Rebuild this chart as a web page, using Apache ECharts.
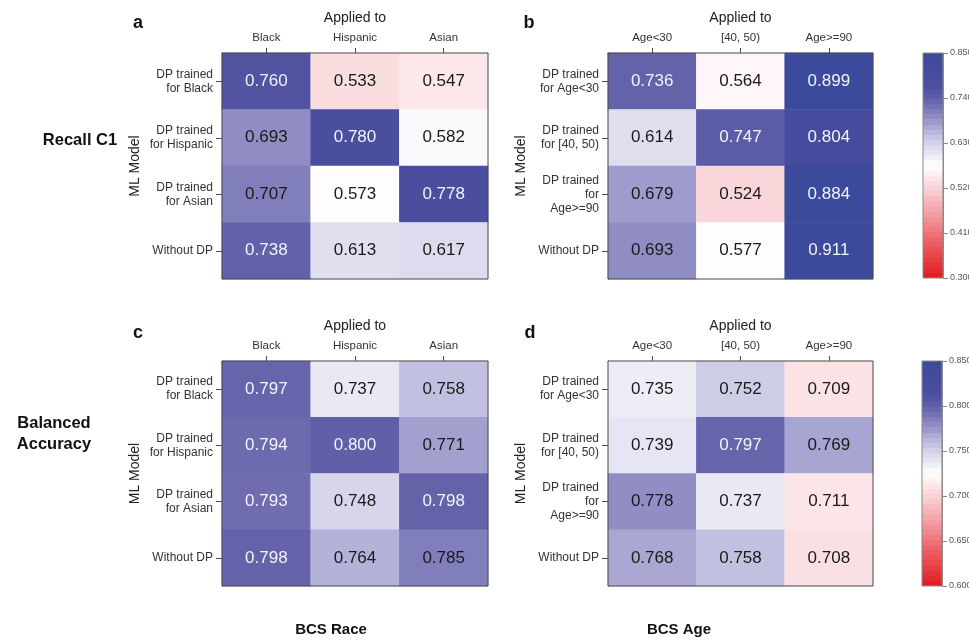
<!DOCTYPE html>
<html>
<head>
<meta charset="utf-8">
<script src="https://cdn.jsdelivr.net/npm/echarts@6/dist/echarts.min.js"></script>
<style>
  html, body { margin: 0; padding: 0; background: #ffffff; }
  #chart { width: 969px; height: 641px; }
</style>
</head>
<body>
<div id="chart"></div>
<script>
// Categories
const raceGroups = ['Black', 'Hispanic', 'Asian'];
const raceModels = ['DP trained\nfor Black', 'DP trained\nfor Hispanic', 'DP trained\nfor Asian', 'Without DP'];
const ageGroups = ['Age<30', '[40, 50)', 'Age>=90'];
const ageModels = ['DP trained\nfor Age<30', 'DP trained\nfor [40, 50)', 'DP trained\nfor\nAge>=90', 'Without DP'];

// Values: rows = model, columns = group it is applied to
const recallRace = [
  [0.760, 0.533, 0.547],
  [0.693, 0.780, 0.582],
  [0.707, 0.573, 0.778],
  [0.738, 0.613, 0.617]
];
const recallAge = [
  [0.736, 0.564, 0.899],
  [0.614, 0.747, 0.804],
  [0.679, 0.524, 0.884],
  [0.693, 0.577, 0.911]
];
const balancedRace = [
  [0.797, 0.737, 0.758],
  [0.794, 0.800, 0.771],
  [0.793, 0.748, 0.798],
  [0.798, 0.764, 0.785]
];
const balancedAge = [
  [0.735, 0.752, 0.709],
  [0.739, 0.797, 0.769],
  [0.778, 0.737, 0.711],
  [0.768, 0.758, 0.708]
];

// Colour scales (min, max, tick step)
const recallScale = [0.30, 0.85, 0.11];
const balancedScale = [0.60, 0.85, 0.05];

// Diverging red - white - blue palette
const palette = [
  '#e3191c', '#e52f33', '#e8464a', '#ea5c61', '#ed7479', '#f08d92', '#f4a5aa', '#f6bcc0', '#f9d3d6', '#fce8ea',
  '#ffffff',
  '#e8e8f4', '#d2d1e8', '#b9b6db', '#9795c9', '#7a78b7', '#605fa8', '#4d4f9f', '#474d9d', '#414b9c', '#3b4a9a'
];
const BAND_COUNT = 44;

const FONT = '"Liberation Sans", Arial, Helvetica, sans-serif';

function cells(matrix, scale) {
  const mid = (scale[0] + scale[1]) / 2;
  const lightCut = mid + 0.53 * (scale[1] - mid);
  const out = [];
  matrix.forEach((row, r) => row.forEach((v, c) => {
    out.push({ value: [c, r, v], label: { color: v > lightCut ? '#f2f2fa' : '#1a1a1a' } });
  }));
  return out;
}

// Stepped vertical gradient for the colour bars (bottom = min, top = max)
function steppedFill() {
  const stops = [];
  for (let k = 0; k < BAND_COUNT; k++) {
    const col = echarts.color.lerp((k + 0.5) / BAND_COUNT, palette);
    stops.push({ offset: k / BAND_COUNT, color: col });
    stops.push({ offset: (k + 1) / BAND_COUNT, color: col });
  }
  return { type: 'linear', x: 0, y: 1, x2: 0, y2: 0, colorStops: stops };
}

const panels = [
  { left: 222, top: 53, width: 266, height: 226, cols: raceGroups, rows: raceModels, data: recallRace, scale: recallScale },
  { left: 608, top: 53, width: 265, height: 226, cols: ageGroups, rows: ageModels, data: recallAge, scale: recallScale },
  { left: 222, top: 361, width: 266, height: 225, cols: raceGroups, rows: raceModels, data: balancedRace, scale: balancedScale },
  { left: 608, top: 361, width: 265, height: 225, cols: ageGroups, rows: ageModels, data: balancedAge, scale: balancedScale }
];
const bars = [
  { left: 923, top: 53, width: 20, height: 225, scale: recallScale, series: [0, 1] },
  { left: 922, top: 361, width: 20, height: 225, scale: balancedScale, series: [2, 3] }
];

const grid = [], xAxis = [], yAxis = [], series = [], visualMap = [], barGraphics = [];

panels.forEach((p, i) => {
  grid.push({ left: p.left, top: p.top, width: p.width, height: p.height, show: true,
    outerBoundsMode: 'none', containLabel: false,
    borderColor: '#4a4a4a', borderWidth: 1, backgroundColor: 'transparent', z: 5 });
  xAxis.push({
    gridIndex: i, type: 'category', data: p.cols, position: 'top',
    name: 'Applied to', nameLocation: 'middle', nameGap: 28,
    nameTextStyle: { fontFamily: FONT, fontSize: 14, color: '#222' },
    axisLine: { show: true, lineStyle: { color: '#4a4a4a', width: 1 } },
    axisTick: { show: true, alignWithLabel: true, length: 5, lineStyle: { color: '#4a4a4a' } },
    axisLabel: { fontFamily: FONT, fontSize: 11.5, color: '#333', margin: 9 },
    splitLine: { show: false }, splitArea: { show: false }
  });
  yAxis.push({
    gridIndex: i, type: 'category', data: p.rows, inverse: true,
    name: 'ML Model', nameLocation: 'middle', nameGap: 80, nameRotate: 90,
    nameTextStyle: { fontFamily: FONT, fontSize: 14, color: '#222' },
    axisLine: { show: true, lineStyle: { color: '#4a4a4a', width: 1 } },
    axisTick: { show: true, alignWithLabel: true, length: 6, lineStyle: { color: '#4a4a4a' } },
    axisLabel: { fontFamily: FONT, fontSize: 12, color: '#333', margin: 9, lineHeight: 14, align: 'right' },
    splitLine: { show: false }, splitArea: { show: false }
  });
  series.push({
    type: 'heatmap', xAxisIndex: i, yAxisIndex: i,
    data: cells(p.data, p.scale),
    label: { show: true, fontFamily: FONT, fontSize: 17,
      formatter: (q) => q.value[2].toFixed(3) },
    itemStyle: { borderWidth: 0 },
    emphasis: { disabled: true }
  });
});

bars.forEach((b, j) => {
  const gi = panels.length + j;
  grid.push({ left: b.left, top: b.top, width: b.width, height: b.height, show: true,
    outerBoundsMode: 'none', containLabel: false,
    borderColor: '#8a8a8a', borderWidth: 1, backgroundColor: 'transparent', z: 10 });
  xAxis.push({ gridIndex: gi, type: 'value', min: 0, max: 1, show: false });
  yAxis.push({
    gridIndex: gi, type: 'value', position: 'right', z: 10,
    min: b.scale[0], max: b.scale[1], interval: b.scale[2],
    axisLine: { show: true, onZero: false, lineStyle: { color: '#8a8a8a' } },
    axisTick: { show: true, inside: false, length: 5, lineStyle: { color: '#8a8a8a' } },
    axisLabel: { fontFamily: FONT, fontSize: 9, color: '#555', margin: 7,
      formatter: (v) => v.toFixed(3) },
    splitLine: { show: false }
  });
  visualMap.push({
    type: 'continuous', show: false, min: b.scale[0], max: b.scale[1], seriesIndex: b.series,
    inRange: { color: palette },
    outOfRange: { color: palette[palette.length - 1] }
  });
  barGraphics.push({
    type: 'rect', z: 1,
    shape: { x: b.left, y: b.top, width: b.width, height: b.height },
    style: { fill: steppedFill() }
  });
});

const boldText = (text, x, y, size) => ({
  type: 'text', x: x, y: y,
  style: { text: text, fontFamily: FONT, fontWeight: 'bold', fontSize: size, fill: '#111',
    textAlign: 'center', textVerticalAlign: 'middle', lineHeight: 21 }
});

const option = {
  backgroundColor: '#ffffff',
  animation: false,
  grid, xAxis, yAxis, series, visualMap,
  graphic: barGraphics.concat([
    boldText('a', 138, 23, 18),
    boldText('b', 529, 23, 18),
    boldText('c', 138, 333, 18),
    boldText('d', 530, 333, 18),
    boldText('Recall C1', 80, 140, 16.5),
    boldText('Balanced\nAccuracy', 54, 434, 16.5),
    boldText('BCS Race', 331, 630, 15),
    boldText('BCS Age', 679, 630, 15)
  ])
};

const chart = echarts.init(document.getElementById('chart'), null, { renderer: 'canvas' });
chart.setOption(option);
</script>
</body>
</html>
